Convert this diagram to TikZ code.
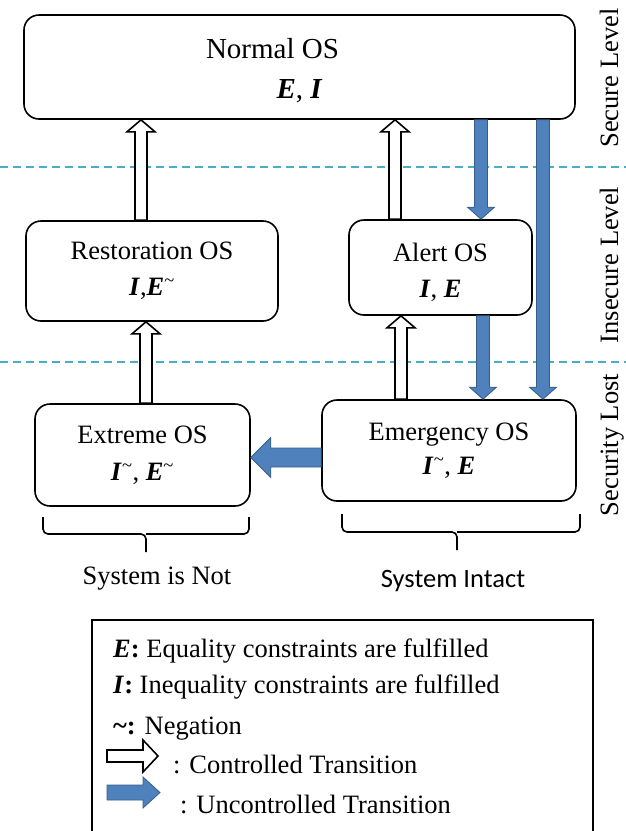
\documentclass[tikz,border=0pt]{standalone}
\usepackage{fontspec}
\setmainfont{Liberation Serif}
\newfontfamily\calibri{Carlito}
\usepackage{tikz}
\usetikzlibrary{calc}
\definecolor{flowblue}{HTML}{4F81BD}
\definecolor{flowedge}{HTML}{385D8A}
\definecolor{levelline}{HTML}{4BACC6}
\newcommand{\bfit}[1]{\textbf{\textit{#1}}}
\newcommand{\negmark}{\textsuperscript{\textasciitilde}}

\begin{document}
\begin{tikzpicture}[
    x = 1pt, y = -1pt,
    font = \fontsize{26.5}{36}\selectfont,
    state/.style = {draw, line width = 1.6pt, rounded corners = 15pt, align = center, inner sep = 0pt},
    % fat block arrow: half shaft / half head / head length
    block/.style args = {#1/#2/#3}{to path = {let \p1 = (\tikztostart), \p2 = (\tikztotarget) in
        ($(\p1)!#1!90:(\p2)$) -- ($(\p2)!#3!(\p1)!#1!-90:(\p1)$) -- ($(\p2)!#3!(\p1)!#2!-90:(\p1)$)
        -- (\p2) -- ($(\p2)!#3!(\p1)!#2!90:(\p1)$) -- ($(\p2)!#3!(\p1)!#1!90:(\p1)$)
        -- ($(\p1)!#1!-90:(\p2)$) -- cycle}},
    ctrl/.style = {draw = black, fill = white, line width = 1.6pt, block = 6pt/14pt/12pt},
    unctrl/.style = {draw = flowedge, fill = flowblue, line width = 0.8pt, block = 6.5pt/13.5pt/12pt},
    level/.style = {levelline, line width = 1.3pt, dash pattern = on 8pt off 5pt},
    brace/.style = {line width = 1.6pt, rounded corners = 5pt},
    side/.style = {rotate = 90, anchor = base},
    ]
    \useasboundingbox (0,0) rectangle (626,831);

    % operating states
    \node [state, minimum width = 551pt, minimum height = 104pt, font = \fontsize{29}{40}\selectfont] (normal) at (299.5,67)
        {\rule{0pt}{28pt}Normal OS\hspace*{54pt}\\ \bfit{E}, \bfit{I}};
    \node [state, minimum width = 252pt, minimum height = 100pt] (restor) at (152,271)
        {Restoration OS\\ \bfit{I},\bfit{E}\negmark};
    \node [state, minimum width = 183pt, minimum height = 95pt] (alert) at (440.5,267.5)
        {\rule{0pt}{28pt}Alert OS\\ \bfit{I}, \bfit{E}};
    \node [state, minimum width = 215pt, minimum height = 102pt, font = \fontsize{26.5}{37}\selectfont] (extreme) at (142.5,455)
        {Extreme OS\\ \bfit{I}\negmark, \bfit{E}\negmark};
    \node [state, minimum width = 254pt, minimum height = 101pt, font = \fontsize{26.5}{34}\selectfont] (emerg) at (449,450.5)
        {Emergency OS\\ \bfit{I}\negmark, \bfit{E}};

    % level borders
    \draw [level] (0,167) -- (626,167);
    \draw [level] (0,362) -- (626,362);
    \node [side] (secure)   at (618,78)  {Secure Level};
    \node [side] (insecure) at (618,265) {Insecure Level};
    \node [side] (lost)     at (618,445) {Security Lost};

    % controlled transitions
    \coordinate (r-up) at ([xshift = -11pt]restor.north);
    \coordinate (x-up) at ([xshift = 3.5pt]extreme.north);
    \coordinate (e-up) at ([xshift = -48pt]emerg.north);
    \coordinate (a-up) at ([xshift = -45.5pt]alert.north);
    \draw [ctrl] (r-up) to (r-up |- normal.south);
    \draw [ctrl] (x-up) to (x-up |- restor.south);
    \draw [ctrl] (e-up) to (e-up |- alert.south);
    \draw [ctrl] (a-up) to (a-up |- normal.south);

    % uncontrolled transitions
    \coordinate (n-dn1) at ([xshift = 181.5pt]normal.south);
    \coordinate (n-dn2) at ([xshift = 243.5pt]normal.south);
    \coordinate (a-dn)  at ([xshift = 42.5pt]alert.south);
    \coordinate (m-left) at ([yshift = -7pt]emerg.west);
    \draw [unctrl] (n-dn1) to (n-dn1 |- alert.north);
    \draw [unctrl] (a-dn) to (a-dn |- emerg.north);
    \draw [unctrl] (n-dn2) to (n-dn2 |- emerg.north);
    \draw [unctrl, block = 9.5pt/20pt/20pt] (m-left) to (m-left -| extreme.east);

    % groups below the states
    \draw [brace] (43,517) |- (146,534) -- (146,552);
    \draw [brace] (249,517) |- (146,534);
    \draw [brace] (342,514) |- (457,532) -- (457,550);
    \draw [brace] (580,514) |- (457,532);
    \node [anchor = base] (notintact) at (157,584) {System is Not};
    \node [font = \calibri\fontsize{26.5}{32}\selectfont] (intact) at (453,581) {System Intact};

    % key
    \draw [line width = 1.6pt] (92,620) rectangle (593,860);
    \node [anchor = base west, inner sep = 0pt] (key-e)   at (113,657) {\bfit{E}\textbf{:} Equality constraints are fulfilled};
    \node [anchor = base west, inner sep = 0pt] (key-i)   at (113,693) {\bfit{I}\textbf{:} Inequality constraints are fulfilled};
    \node [anchor = base west, inner sep = 0pt] (key-neg) at (113,734) {\textbf{\textasciitilde:} Negation};
    \coordinate (key-c1) at (107,756);
    \coordinate (key-c2) at (158,756);
    \coordinate (key-u1) at (107,792.5);
    \coordinate (key-u2) at (160,792.5);
    \draw [ctrl, block = 6pt/16pt/15pt] (key-c1) to (key-c2);
    \draw [unctrl, block = 7.5pt/15.5pt/17pt] (key-u1) to (key-u2);
    \node [anchor = base west, inner sep = 0pt] (key-ctrl)   at (173,773) {: Controlled Transition};
    \node [anchor = base west, inner sep = 0pt] (key-unctrl) at (180,813) {: Uncontrolled Transition};
\end{tikzpicture}
\end{document}
